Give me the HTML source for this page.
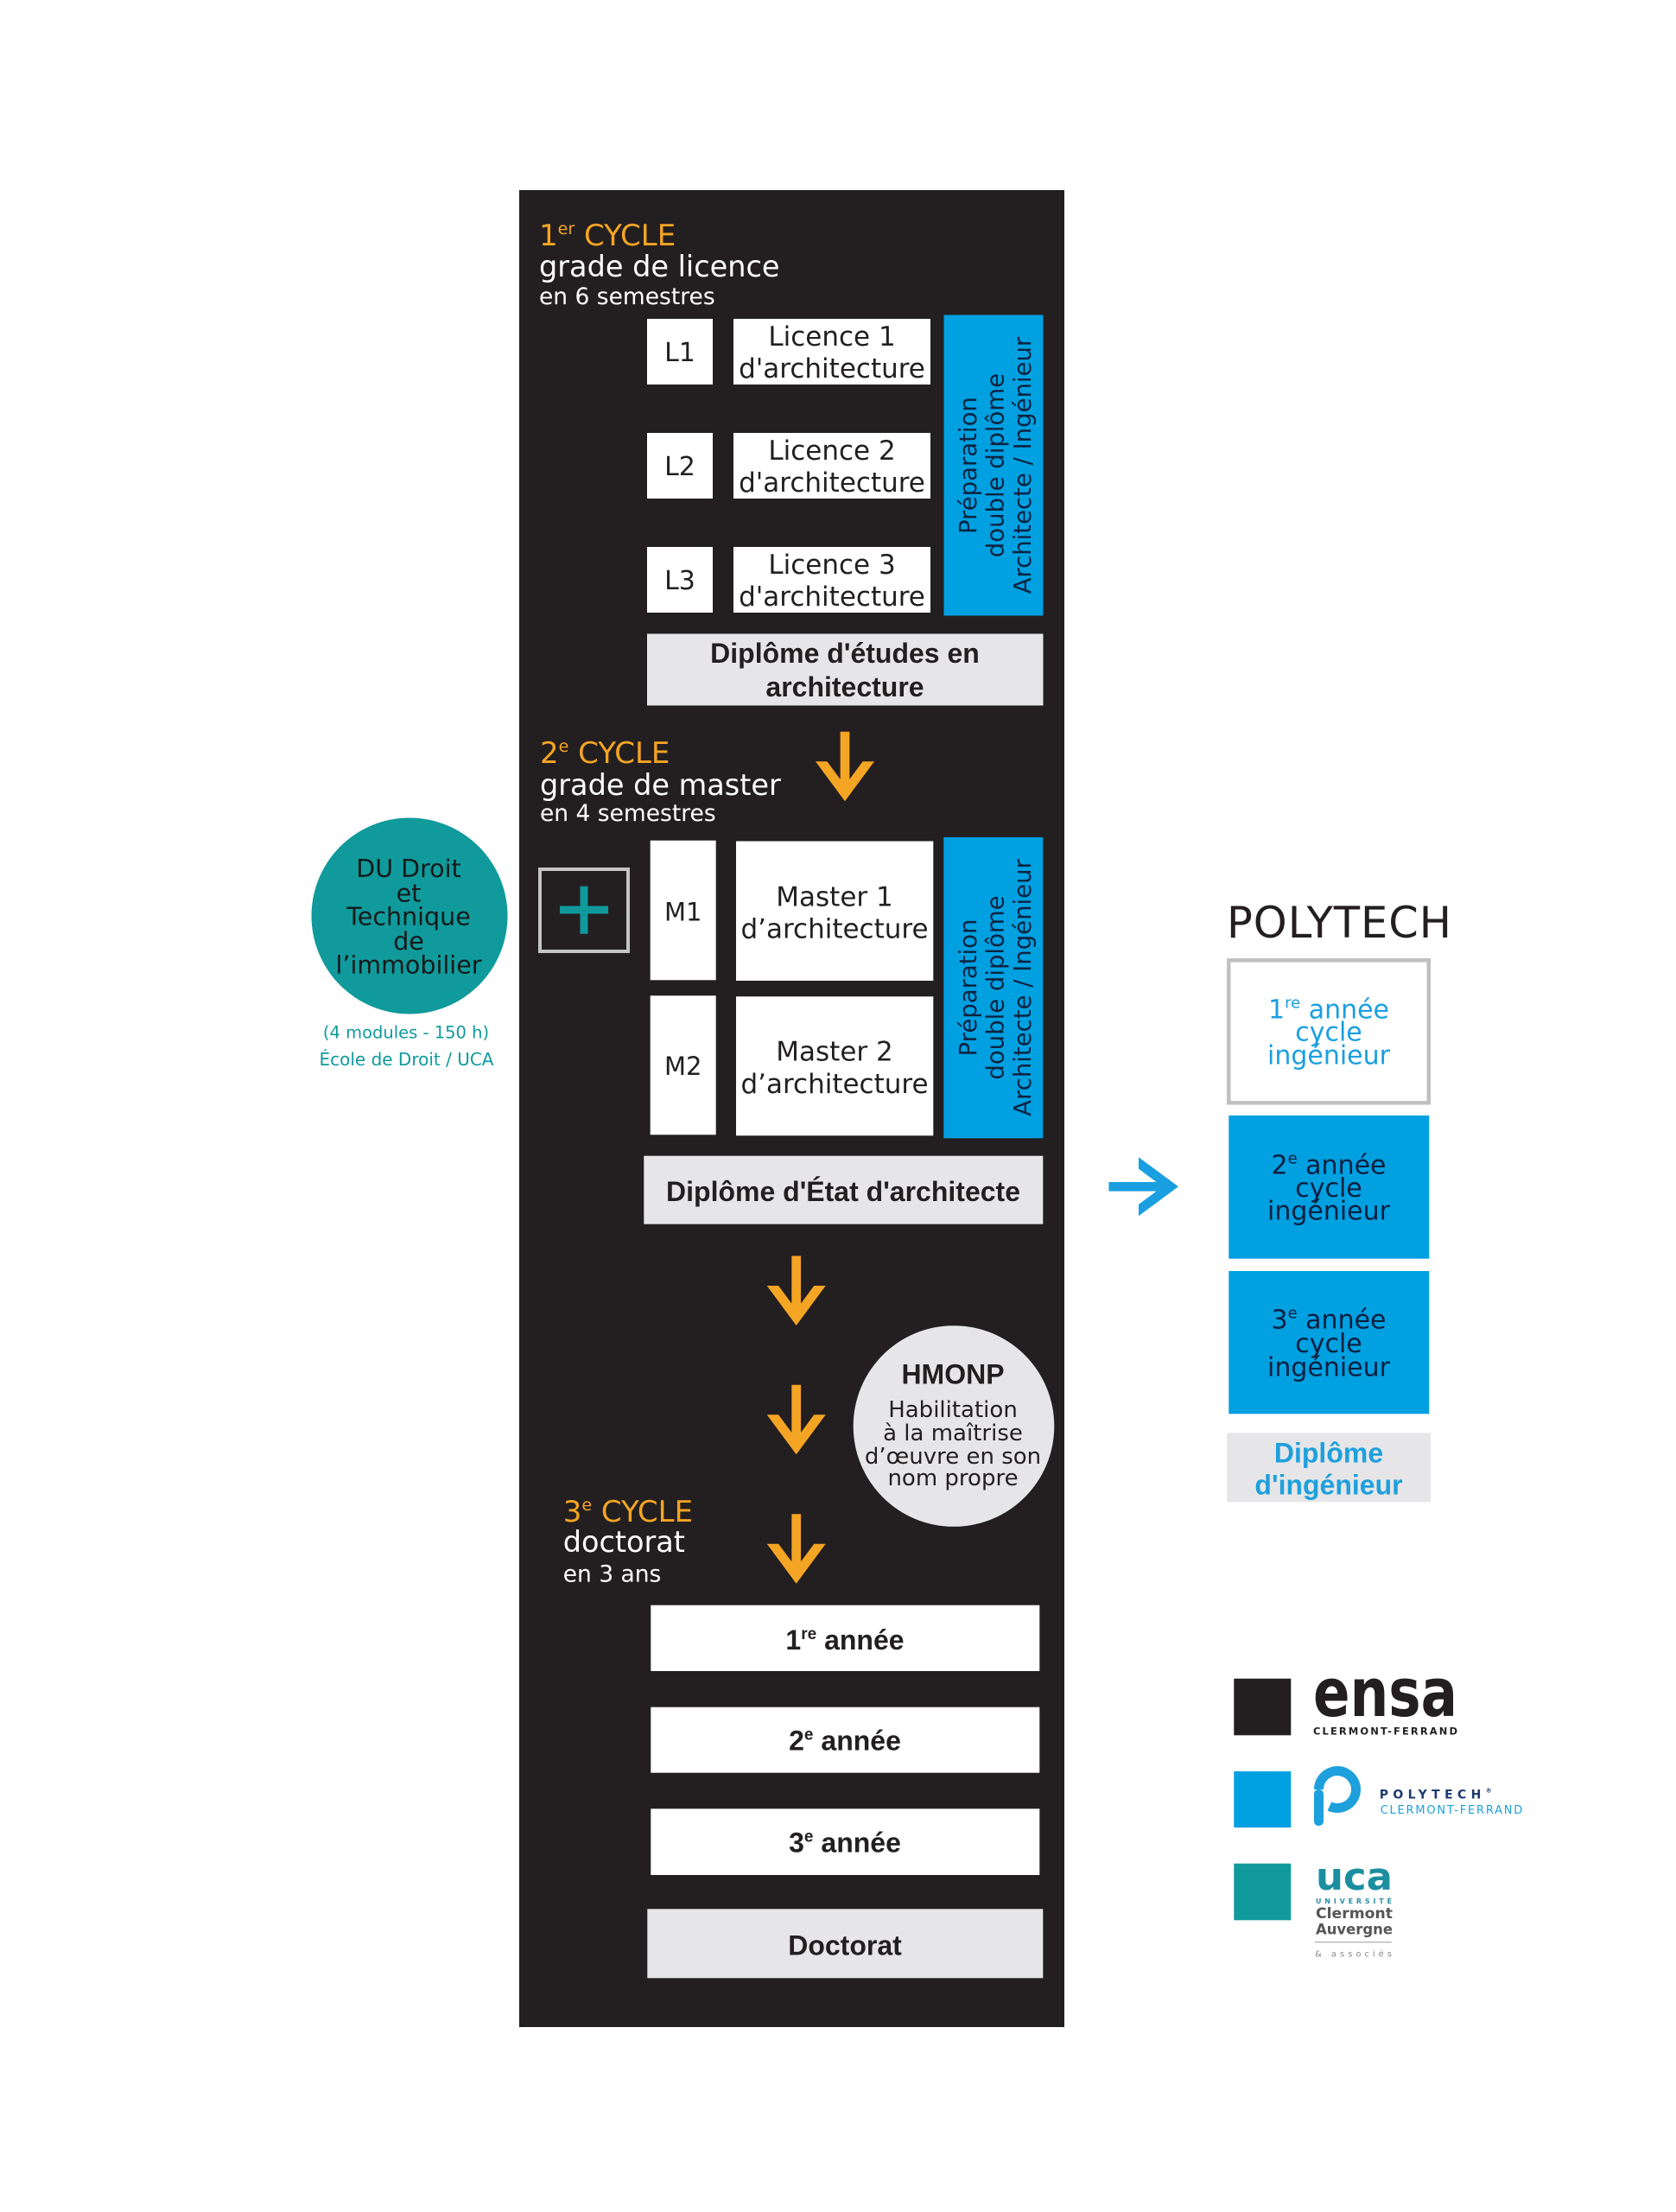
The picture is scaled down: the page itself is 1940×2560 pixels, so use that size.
<!DOCTYPE html>
<html lang="fr">
<head>
<meta charset="utf-8">
<style>
  html,body{margin:0;padding:0;background:#ffffff;}
  body{width:1940px;height:2560px;overflow:hidden;}
  svg{display:block;}
  .r{font-family:"DejaVu Sans","Liberation Sans",sans-serif;}
  .b{font-family:"Liberation Sans","DejaVu Sans",sans-serif;font-weight:bold;}
</style>
</head>
<body>
<svg width="1940" height="2560" viewBox="0 0 1940 2560" xmlns="http://www.w3.org/2000/svg">
  <defs>
    <path id="arw" d="M -5.35 -80.5 L 5.35 -80.5 L 5.35 -25.4 L 20.6 -46 L 34 -46 L 0 0 L -34 -46 L -20.6 -46 L -5.35 -25.4 Z"/>
  </defs>
  <rect x="0" y="0" width="1940" height="2560" fill="#ffffff"/>

  <!-- main dark panel -->
  <rect x="601" y="220" width="631" height="2126" fill="#231f20"/>

  <!-- ===== 1er CYCLE ===== -->
  <text class="r" x="624" y="284" font-size="34" fill="#f5a524">1<tspan font-size="19" dy="-13">er</tspan><tspan dy="13"> CYCLE</tspan></text>
  <text class="r" x="624" y="320" font-size="33.5" fill="#ffffff">grade de licence</text>
  <text class="r" x="624" y="352" font-size="26.5" fill="#ffffff">en 6 semestres</text>

  <!-- L boxes -->
  <rect x="749" y="369" width="76" height="76" fill="#ffffff"/>
  <rect x="749" y="501" width="76" height="76" fill="#ffffff"/>
  <rect x="749" y="633" width="76" height="76" fill="#ffffff"/>
  <g class="r" font-size="30" fill="#231f20" text-anchor="middle">
    <text x="787" y="418">L1</text>
    <text x="787" y="550">L2</text>
    <text x="787" y="682">L3</text>
  </g>
  <rect x="849" y="369" width="228" height="76" fill="#ffffff"/>
  <rect x="849" y="501" width="228" height="76" fill="#ffffff"/>
  <rect x="849" y="633" width="228" height="76" fill="#ffffff"/>
  <g class="r" font-size="31" fill="#231f20" text-anchor="middle">
    <text x="963" y="400">Licence 1</text>
    <text x="963" y="437">d'architecture</text>
    <text x="963" y="532">Licence 2</text>
    <text x="963" y="569">d'architecture</text>
    <text x="963" y="664">Licence 3</text>
    <text x="963" y="701">d'architecture</text>
  </g>

  <!-- blue vertical 1 -->
  <rect x="1092.5" y="364.5" width="115" height="348" fill="#00a0e1"/>
  <g class="r" transform="translate(1150,538.6) rotate(-90)" font-size="27.5" fill="#0d2340" text-anchor="middle">
    <text x="0" y="-20">Préparation</text>
    <text x="0" y="11.5">double diplôme</text>
    <text x="0" y="43">Architecte / Ingénieur</text>
  </g>

  <!-- Diplome d'etudes -->
  <rect x="749" y="733.5" width="458.5" height="83" fill="#e6e6e8"/>
  <g class="b" font-size="32" fill="#231f20" text-anchor="middle">
    <text x="978" y="767">Diplôme d'études en</text>
    <text x="978" y="806">architecture</text>
  </g>

  <!-- ===== 2e CYCLE ===== -->
  <text class="r" x="625" y="883" font-size="34" fill="#f5a524">2<tspan font-size="19" dy="-13">e</tspan><tspan dy="13"> CYCLE</tspan></text>
  <text class="r" x="625" y="920" font-size="33.5" fill="#ffffff">grade de master</text>
  <text class="r" x="625" y="950" font-size="26.5" fill="#ffffff">en 4 semestres</text>

  <use href="#arw" transform="translate(978,927.3)" fill="#f5a524"/>

  <!-- plus box -->
  <rect x="625" y="1006" width="102" height="95" fill="none" stroke="#c4c4c4" stroke-width="4"/>
  <rect x="648" y="1048.5" width="56" height="9" fill="#109a9c"/>
  <rect x="671.5" y="1025.7" width="9" height="55" fill="#109a9c"/>

  <!-- M boxes -->
  <rect x="752.7" y="972.7" width="76" height="161.6" fill="#ffffff"/>
  <rect x="752.7" y="1152.3" width="76" height="161" fill="#ffffff"/>
  <g class="r" font-size="29" fill="#231f20" text-anchor="middle">
    <text x="790.7" y="1065.5">M1</text>
    <text x="790.7" y="1244">M2</text>
  </g>
  <rect x="852" y="973.5" width="228.3" height="161.5" fill="#ffffff"/>
  <rect x="852" y="1153.3" width="228.3" height="161" fill="#ffffff"/>
  <g class="r" font-size="31" fill="#231f20" text-anchor="middle">
    <text x="966" y="1048.3">Master 1</text>
    <text x="966" y="1085.7">d’architecture</text>
    <text x="966" y="1227.3">Master 2</text>
    <text x="966" y="1265">d’architecture</text>
  </g>

  <!-- blue vertical 2 -->
  <rect x="1092.3" y="969" width="115" height="348.3" fill="#00a0e1"/>
  <g class="r" transform="translate(1150,1143) rotate(-90)" font-size="27.5" fill="#0d2340" text-anchor="middle">
    <text x="0" y="-20">Préparation</text>
    <text x="0" y="11.5">double diplôme</text>
    <text x="0" y="43">Architecte / Ingénieur</text>
  </g>

  <!-- Diplome d'Etat -->
  <rect x="745.3" y="1337.7" width="462" height="79" fill="#e6e6e8"/>
  <text class="b" x="976" y="1390" font-size="32" fill="#231f20" text-anchor="middle">Diplôme d'État d'architecte</text>

  <!-- DU circle -->
  <circle cx="474" cy="1060" r="113.5" fill="#109a9c"/>
  <g class="r" font-size="28.5" fill="#16191a" text-anchor="middle">
    <text x="473" y="1015">DU Droit</text>
    <text x="473" y="1043.3">et</text>
    <text x="473" y="1070.7">Technique</text>
    <text x="473" y="1099">de</text>
    <text x="473" y="1126.7">l’immobilier</text>
  </g>
  <g class="r" fill="#109a9c" text-anchor="middle">
    <text x="470" y="1201.7" font-size="19.5">(4 modules - 150 h)</text>
    <text x="470.5" y="1233" font-size="20">École de Droit / UCA</text>
  </g>

  <!-- arrows down -->
  <use href="#arw" transform="translate(921.7,1534)" fill="#f5a524"/>
  <use href="#arw" transform="translate(921.7,1683.3)" fill="#f5a524"/>
  <use href="#arw" transform="translate(921.7,1832.7)" fill="#f5a524"/>

  <!-- HMONP -->
  <circle cx="1104" cy="1650.5" r="116.3" fill="#e6e6e8"/>
  <text class="b" x="1103" y="1601.7" font-size="32" fill="#231f20" text-anchor="middle">HMONP</text>
  <g class="r" font-size="26" fill="#231f20" text-anchor="middle">
    <text x="1103" y="1640">Habilitation</text>
    <text x="1103" y="1667">à la maîtrise</text>
    <text x="1103" y="1694">d’œuvre en son</text>
    <text x="1103" y="1719">nom propre</text>
  </g>

  <!-- ===== 3e CYCLE ===== -->
  <text class="r" x="651.7" y="1761" font-size="34" fill="#f5a524">3<tspan font-size="19" dy="-13">e</tspan><tspan dy="13"> CYCLE</tspan></text>
  <text class="r" x="651.7" y="1796" font-size="33.5" fill="#ffffff">doctorat</text>
  <text class="r" x="651.7" y="1830.7" font-size="26.5" fill="#ffffff">en 3 ans</text>

  <rect x="753.3" y="1857.7" width="450" height="76.3" fill="#ffffff"/>
  <rect x="753.3" y="1975.7" width="450" height="76" fill="#ffffff"/>
  <rect x="753.3" y="2093.3" width="450" height="76.7" fill="#ffffff"/>
  <g class="b" font-size="32" fill="#231f20" text-anchor="middle">
    <text x="978" y="1909">1<tspan font-size="19" dy="-12">re</tspan><tspan dy="12"> année</tspan></text>
    <text x="978" y="2025.5">2<tspan font-size="19" dy="-12">e</tspan><tspan dy="12"> année</tspan></text>
    <text x="978" y="2143.3">3<tspan font-size="19" dy="-12">e</tspan><tspan dy="12"> année</tspan></text>
  </g>
  <rect x="749.3" y="2209.3" width="458" height="80" fill="#e6e6e8"/>
  <text class="b" x="978" y="2262.3" font-size="32" fill="#231f20" text-anchor="middle">Doctorat</text>

  <!-- ===== POLYTECH column ===== -->
  <text class="r" x="1420" y="1085" font-size="49.5" fill="#231f20" textLength="260" lengthAdjust="spacing">POLYTECH</text>

  <use href="#arw" transform="translate(1364,1373.3) rotate(-90)" fill="#1a9fe0"/>

  <rect x="1422.3" y="1111.3" width="231.5" height="165" fill="#ffffff" stroke="#c0c0c0" stroke-width="4.5"/>
  <g class="r" font-size="30" fill="#1a9fe0" text-anchor="middle">
    <text x="1538" y="1178.3">1<tspan font-size="18" dy="-12">re</tspan><tspan dy="12"> année</tspan></text>
    <text x="1538" y="1204.5">cycle</text>
    <text x="1538" y="1231.5">ingénieur</text>
  </g>

  <rect x="1422.3" y="1291" width="232" height="165.7" fill="#00a0e1"/>
  <g class="r" font-size="30" fill="#0b1f3f" text-anchor="middle">
    <text x="1538" y="1358.3">2<tspan font-size="18" dy="-12">e</tspan><tspan dy="12"> année</tspan></text>
    <text x="1538" y="1385">cycle</text>
    <text x="1538" y="1411.7">ingénieur</text>
  </g>

  <rect x="1422.3" y="1471" width="232" height="165.3" fill="#00a0e1"/>
  <g class="r" font-size="30" fill="#0b1f3f" text-anchor="middle">
    <text x="1538" y="1537.7">3<tspan font-size="18" dy="-12">e</tspan><tspan dy="12"> année</tspan></text>
    <text x="1538" y="1565">cycle</text>
    <text x="1538" y="1592.7">ingénieur</text>
  </g>

  <rect x="1420.3" y="1658.3" width="235.7" height="80" fill="#e6e6e8"/>
  <g class="b" font-size="32" fill="#1ea0dc" text-anchor="middle">
    <text x="1538" y="1692.3">Diplôme</text>
    <text x="1538" y="1729.3">d'ingénieur</text>
  </g>

  <!-- ===== logos ===== -->
  <rect x="1428.3" y="1942.7" width="66" height="65.6" fill="#231f20"/>
  <rect x="1428.3" y="2050" width="66" height="65" fill="#00a0e1"/>
  <rect x="1428.3" y="2156.7" width="66" height="65.6" fill="#109a9c"/>

  <!-- ensa -->
  <g transform="translate(1520,1986) scale(1,1.25)">
    <text class="r" x="0" y="0" font-size="62" font-weight="bold" fill="#231f20" textLength="167" lengthAdjust="spacingAndGlyphs">ensa</text>
  </g>
  <text class="r" x="1520" y="2007.3" font-size="11.5" font-weight="bold" fill="#231f20" textLength="167" lengthAdjust="spacing">CLERMONT-FERRAND</text>

  <!-- polytech logo -->
  <path d="M 1526.5 2071 A 21.5 21.5 0 1 1 1538.9 2090.5" fill="none" stroke="#1da0dc" stroke-width="11"/>
  <rect x="1521" y="2071" width="11" height="42" rx="5" fill="#1da0dc"/>
  <text class="r" x="1596.7" y="2081.7" font-size="14" font-weight="bold" fill="#1d3b6e" textLength="130" lengthAdjust="spacing">POLYTECH<tspan font-size="7" dy="-7">®</tspan></text>
  <text class="r" x="1597.7" y="2099" font-size="13" fill="#1da0dc" textLength="164.6" lengthAdjust="spacing">CLERMONT-FERRAND</text>

  <!-- uca logo -->
  <text class="r" x="1523" y="2187" font-size="44" font-weight="bold" fill="#1b8ea0" textLength="89" lengthAdjust="spacingAndGlyphs">uca</text>
  <text class="r" x="1523" y="2203" font-size="8" font-weight="bold" fill="#2a8fa5" textLength="88" lengthAdjust="spacing">UNIVERSITÉ</text>
  <text class="r" x="1523" y="2220" font-size="17" font-weight="bold" fill="#555555" textLength="89" lengthAdjust="spacingAndGlyphs">Clermont</text>
  <text class="r" x="1523" y="2238.3" font-size="17" font-weight="bold" fill="#555555" textLength="89" lengthAdjust="spacingAndGlyphs">Auvergne</text>
  <line x1="1521.7" y1="2247.7" x2="1610.7" y2="2247.7" stroke="#9a9a9a" stroke-width="1"/>
  <text class="r" x="1522" y="2264.3" font-size="10" fill="#888888" textLength="89" lengthAdjust="spacing">&amp; associés</text>
</svg>
</body>
</html>
